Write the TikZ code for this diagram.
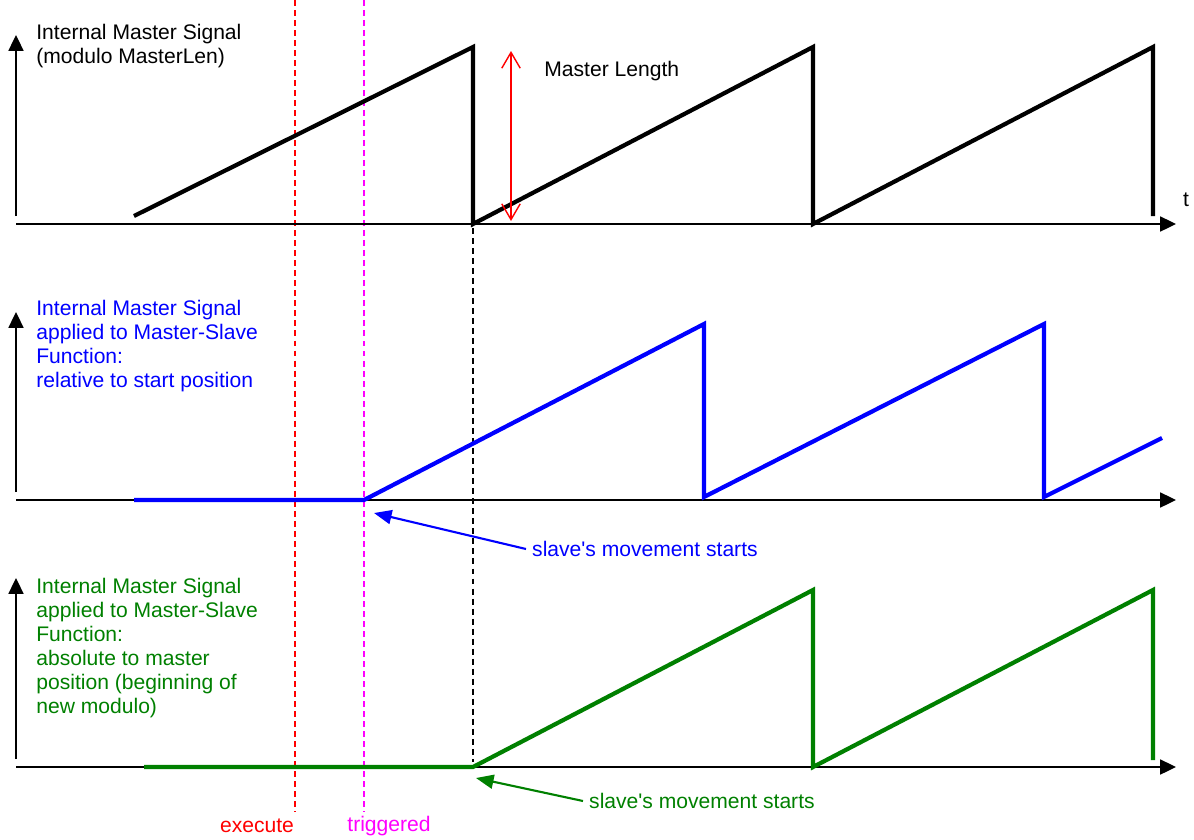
\documentclass[tikz,border=0pt]{standalone}
\usepackage{fontspec}
\setmainfont{Liberation Sans}
\usepackage{tikz}
\usetikzlibrary{arrows.meta, positioning}
\definecolor{sgreen}{RGB}{0,128,0}
\definecolor{sred}{RGB}{255,0,0}
\definecolor{smag}{RGB}{255,0,255}
\definecolor{sblue}{RGB}{0,0,255}
\begin{document}
\begin{tikzpicture}[
  x=0.02cm, y=-0.02cm, font=\fontsize{12}{13.7}\selectfont,
  ax/.style={-{Triangle[length=9pt,width=8.5pt]}, line width=1.1pt},
  sig/.style={line width=2.4pt},
  vl/.style={line width=0.9pt, dash pattern=on 3.4pt off 2.3pt},
  lbl/.style={anchor=north west, inner sep=0pt, align=left},
  pt/.style={-{Triangle[length=10pt,width=8pt]}, line width=1.2pt}]
\useasboundingbox (0,0) rectangle (1194,839);
% vertical markers
\draw[vl, sred] (295,0) -- (295,812);
\draw[vl, smag] (364,0) -- (364,812);
\draw[vl, black] (473,228) -- (473,762);
% axes
\foreach \y/\t in {224/35, 500/312, 767/578} {
  \draw[ax] (16,\y) -- (1176,\y);
  \draw[ax] (16,\y-8) -- (16,\t);
}
\node[inner sep=0pt] (t) at (1186,200) {t};
% master signal
\draw[sig] (134,216) -- (473,47) -- (473,224) -- (813,47) -- (813,224) -- (1153,47) -- (1153,216);
\draw[sred, line width=0.8pt, {Straight Barb[length=9pt,width=10.5pt]}-{Straight Barb[length=9pt,width=10.5pt]}] (511,51) -- (511,221);
\node[anchor=west, inner sep=0pt] (mlen) at (544,71) {Master Length};
\node[lbl] (lmaster) at (36,24) {Internal Master Signal\\(modulo MasterLen)};
% relative start
\coordinate (bstart) at (364,500);
\draw[sig, sblue] (134,500) -- (bstart) -- (704,324) -- (704,497) -- (1044,324) -- (1044,497) -- (1162,438);
\node[lbl, sblue] (lrel) at (36,300) {Internal Master Signal\\applied to Master-Slave\\Function:\\relative to start position};
\coordinate (bhit) at (374,513);
\node[anchor=west, sblue] (bmove) at (526,549) {slave\textquotesingle s movement starts};
\draw[pt, sblue] (bmove.west) -- (bhit);
% absolute start
\coordinate (gstart) at (473,767);
\draw[sig, sgreen] (144,767) -- (gstart) -- (813,590) -- (813,767) -- (1153,590) -- (1153,760);
\node[lbl, sgreen] (labs) at (36,578) {Internal Master Signal\\applied to Master-Slave\\Function:\\absolute to master\\position (beginning of\\new modulo)};
\coordinate (ghit) at (476,778);
\node[anchor=west, sgreen] (gmove) at (583,801) {slave\textquotesingle s movement starts};
\draw[pt, sgreen] (gmove.west) -- (ghit);
% marker labels
\node[sred] (exec) at (257,826) {execute};
\node[smag] (trig) at (389,826) {triggered};
\end{tikzpicture}
\end{document}
